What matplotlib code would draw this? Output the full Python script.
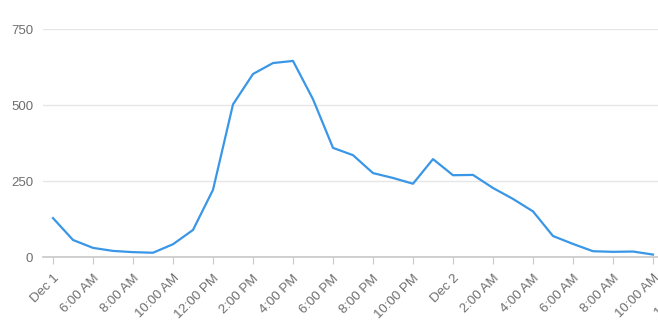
import numpy as np
import matplotlib.pyplot as plt
from matplotlib.transforms import ScaledTranslation

plt.rcParams["font.family"] = ["Liberation Sans", "DejaVu Sans"]

# hourly values, starting at the "Dec 1" tick
values = [128, 56, 30, 20, 16, 14, 42, 89, 221, 502, 602, 638, 645, 519, 359,
          335, 276, 260, 241, 322, 269, 270, 227, 191, 150, 69, 43, 19, 17, 18, 8]
tick_labels = ["Dec 1", "6:00 AM", "8:00 AM", "10:00 AM", "12:00 PM", "2:00 PM",
               "4:00 PM", "6:00 PM", "8:00 PM", "10:00 PM", "Dec 2", "2:00 AM",
               "4:00 AM", "6:00 AM", "8:00 AM", "10:00 AM"]
next_label = "12:00 PM"
y_ticks = [0, 250, 500, 750]

hours = np.arange(len(values))
grey = "#6e6e6e"

fig = plt.figure(figsize=(6.58, 3.28), dpi=100)
# plot area runs past the right edge of the image, like the original
ax = fig.add_axes([43/658, 1-257/328, 620/658, 228/328])

ax.plot(hours, values, color="#3a96e6", lw=1.6, solid_joinstyle="round", zorder=3)

ax.set_xlim(-0.5, len(values)-0.5)
ax.set_ylim(0, 750)
ax.set_yticks(y_ticks)
ax.set_yticklabels([str(v) for v in y_ticks])
ax.grid(axis="y", color="#e6e6e6", lw=1)
ax.set_axisbelow(True)

xt = np.arange(0, len(values), 2)
ax.set_xticks(xt)
ax.set_xticklabels(tick_labels, rotation=45, ha="right", rotation_mode="anchor")

for s in ["top", "right", "left"]:
    ax.spines[s].set_visible(False)
ax.spines["bottom"].set_color("#c8c8c8")
ax.spines["bottom"].set_linewidth(1.2)
ax.tick_params(axis="x", length=5, color="#c8c8c8", labelsize=9.5, labelcolor=grey, pad=6)
ax.tick_params(axis="y", length=0, labelsize=9.5, labelcolor=grey, pad=7)
for t in ax.get_xticklabels():
    t.set_va("top")

# label of the next tick, which falls outside the image
shift = ScaledTranslation(0, -(5 + 6*100/72)/100, fig.dpi_scale_trans)
ax.text(xt[-1]+2, 0, next_label, transform=ax.get_xaxis_transform() + shift,
        rotation=45, ha="right", va="top", rotation_mode="anchor",
        fontsize=9.5, color=grey, clip_on=False)

fig.savefig("out.png", dpi=100, facecolor="white")
